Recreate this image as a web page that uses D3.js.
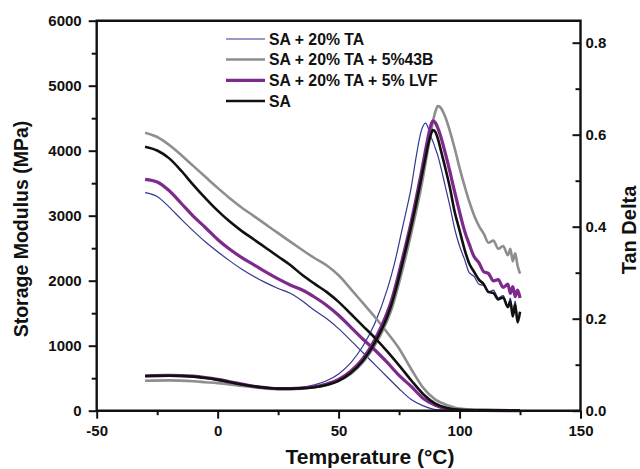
<!DOCTYPE html>
<html>
<head>
<meta charset="utf-8">
<script src="https://cdn.jsdelivr.net/npm/d3@7"></script>
<style>
    body { margin: 0; background: #fff; }
    text { font-family: "Liberation Sans", Arial, sans-serif; font-weight: bold; fill: #111; }
    .axis path { display: none; }
    .axis line { stroke: #111; stroke-width: 2; }
</style>
</head>
<body>
<svg id="chart" width="640" height="469"></svg>
<script>
// series names as in the legend
var seriesNames = ['SA + 20% TA', 'SA + 20% TA + 5%43B', 'SA + 20% TA + 5% LVF', 'SA'];

// storage modulus (MPa)
var modTemps = [-30, -25, -20, -15, -10, -5, 0, 5, 10, 15, 20, 25, 30, 35, 40, 45, 50, 55, 60, 65, 70, 75, 80, 85, 90, 95, 100, 110, 125];
var modTA = [3354, 3295, 3131, 2943, 2763, 2595, 2445, 2305, 2177, 2065, 1966, 1880, 1806, 1688, 1545, 1418, 1263, 1082, 895, 709, 523, 337, 172, 75, 18, 10, 5, 3, 2];
var mod43B = [4277, 4211, 4088, 3931, 3763, 3595, 3428, 3269, 3123, 2994, 2863, 2731, 2602, 2472, 2349, 2238, 2083, 1875, 1658, 1442, 1208, 958, 642, 352, 171, 86, 34, 12, 5];
var modLVF = [3560, 3518, 3383, 3188, 2989, 2815, 2634, 2483, 2355, 2245, 2132, 2028, 1935, 1857, 1749, 1623, 1468, 1286, 1103, 934, 746, 543, 374, 189, 85, 26, 10, 4, 2];
var modSA = [4062, 4003, 3882, 3689, 3471, 3268, 3078, 2909, 2763, 2634, 2503, 2372, 2242, 2088, 1954, 1828, 1674, 1492, 1306, 1120, 917, 698, 468, 254, 109, 42, 14, 6, 3];

// tan delta
var tanTemps = [-30, -20, -10, -5, 0, 5, 10, 15, 20, 25, 30, 35, 40, 45, 50, 55, 60, 65, 70, 72, 74, 76, 78, 80, 82, 84, 86, 87, 88, 89, 90, 91, 92, 94, 96, 98, 100, 102, 104, 106, 108, 110, 112, 114, 116, 118, 120, 121, 122, 123, 124, 125];
var tanTA = [0.076, 0.077, 0.075, 0.072, 0.068, 0.063, 0.058, 0.054, 0.051, 0.049, 0.049, 0.051, 0.056, 0.065, 0.080, 0.104, 0.140, 0.190, 0.262, 0.298, 0.340, 0.388, 0.435, 0.485, 0.550, 0.605, 0.625, 0.615, 0.598, 0.585, 0.570, 0.555, 0.535, 0.490, 0.445, 0.395, 0.358, 0.330, 0.300, 0.292, 0.275, 0.272, 0.258, 0.262, 0.245, 0.250, 0.228, 0.245, 0.215, 0.238, 0.200, 0.215];
var tan43B = [0.065, 0.066, 0.064, 0.062, 0.060, 0.057, 0.054, 0.051, 0.048, 0.047, 0.047, 0.048, 0.051, 0.056, 0.065, 0.080, 0.105, 0.142, 0.195, 0.222, 0.258, 0.298, 0.340, 0.385, 0.432, 0.482, 0.540, 0.570, 0.600, 0.628, 0.650, 0.662, 0.660, 0.640, 0.608, 0.570, 0.528, 0.490, 0.455, 0.425, 0.402, 0.385, 0.365, 0.370, 0.352, 0.358, 0.338, 0.352, 0.325, 0.342, 0.315, 0.298];
var tanLVF = [0.076, 0.077, 0.075, 0.072, 0.068, 0.063, 0.058, 0.053, 0.050, 0.048, 0.048, 0.049, 0.052, 0.058, 0.068, 0.086, 0.113, 0.155, 0.212, 0.242, 0.280, 0.322, 0.365, 0.410, 0.460, 0.512, 0.568, 0.595, 0.618, 0.630, 0.626, 0.615, 0.600, 0.562, 0.520, 0.475, 0.432, 0.392, 0.362, 0.335, 0.322, 0.302, 0.298, 0.282, 0.285, 0.268, 0.275, 0.255, 0.270, 0.248, 0.262, 0.245];
var tanSA = [0.075, 0.076, 0.074, 0.071, 0.067, 0.062, 0.057, 0.053, 0.050, 0.048, 0.048, 0.049, 0.051, 0.056, 0.065, 0.082, 0.108, 0.148, 0.203, 0.233, 0.270, 0.312, 0.355, 0.400, 0.448, 0.500, 0.552, 0.578, 0.598, 0.610, 0.606, 0.592, 0.572, 0.530, 0.485, 0.432, 0.392, 0.352, 0.320, 0.302, 0.285, 0.275, 0.258, 0.256, 0.242, 0.246, 0.225, 0.238, 0.205, 0.230, 0.192, 0.215];

var colors = ['#34378f', '#8e8e8e', '#7e2a8c', '#111111'];
var widths = [1.2, 2.6, 3.2, 2.6];

var xTicks = [-50, 0, 50, 100, 150];
var xMinor = [-25, 25, 75, 125];
var yTicks = [0, 1000, 2000, 3000, 4000, 5000, 6000];
var yMinor = [500, 1500, 2500, 3500, 4500, 5500];
var tTicks = [0, 0.2, 0.4, 0.6, 0.8];
var tMinor = [0.1, 0.3, 0.5, 0.7];

var L = 96.7, R = 580.5, T = 20.7, B = 410.7;
var svg = d3.select('#chart');

var x = d3.scaleLinear().domain([-50, 150]).range([L, R]);
var yMod = d3.scaleLinear().domain([0, 6000]).range([B, T]);
var yTan = d3.scaleLinear().domain([0, 0.8478]).range([B, T]);

// curves
var modSeries = [modTA, mod43B, modLVF, modSA];
var tanSeries = [tanTA, tan43B, tanLVF, tanSA];

var modLine = d3.line().x(function(d, i) { return x(modTemps[i]); }).y(function(d) { return yMod(d); }).curve(d3.curveMonotoneX);
var tanLine = d3.line().x(function(d, i) { return x(tanTemps[i]); }).y(function(d) { return yTan(d); }).curve(d3.curveMonotoneX);

for (var s = 0; s < 4; s++) {
    svg.append('path').attr('d', modLine(modSeries[s])).attr('fill', 'none')
        .attr('stroke', colors[s]).attr('stroke-width', widths[s]).attr('stroke-linejoin', 'round');
    svg.append('path').attr('d', tanLine(tanSeries[s])).attr('fill', 'none')
        .attr('stroke', colors[s]).attr('stroke-width', widths[s]).attr('stroke-linejoin', 'round');
}

// axes (plain hyphen for negatives, like the original)
var intFmt = function(d) { return String(d); };

svg.append('g').attr('class', 'axis').attr('transform', 'translate(' + L + ',0)')
    .call(d3.axisLeft(yMod).tickValues(yTicks).tickSize(8).tickSizeOuter(0).tickPadding(7).tickFormat(intFmt))
    .selectAll('text').style('font-size', '15px');
svg.append('g').attr('class', 'axis').attr('transform', 'translate(' + L + ',0)')
    .call(d3.axisLeft(yMod).tickValues(yMinor).tickSize(5).tickSizeOuter(0).tickFormat(''));

svg.append('g').attr('class', 'axis').attr('transform', 'translate(0,' + B + ')')
    .call(d3.axisBottom(x).tickValues(xTicks).tickSize(8).tickSizeOuter(0).tickPadding(6.5).tickFormat(intFmt))
    .selectAll('text').style('font-size', '15px');
svg.append('g').attr('class', 'axis').attr('transform', 'translate(0,' + B + ')')
    .call(d3.axisBottom(x).tickValues(xMinor).tickSize(4.5).tickSizeOuter(0).tickFormat(''));

svg.append('g').attr('class', 'axis').attr('transform', 'translate(' + R + ',0)')
    .call(d3.axisRight(yTan).tickValues(tTicks).tickSize(-8).tickSizeOuter(0).tickPadding(5).tickFormat(d3.format('.1f')))
    .selectAll('text').style('font-size', '15px');
svg.append('g').attr('class', 'axis').attr('transform', 'translate(' + R + ',0)')
    .call(d3.axisRight(yTan).tickValues(tMinor).tickSize(-5).tickSizeOuter(0).tickFormat(''));

// frame
svg.append('path').attr('d', 'M' + L + ',' + B + 'V' + T + 'H' + R + 'V' + B + 'Z')
    .attr('fill', 'none').attr('stroke', '#111').attr('stroke-width', 2.4);

// axis titles
svg.append('text').attr('x', 370).attr('y', 464).attr('text-anchor', 'middle')
    .style('font-size', '21px').text('Temperature (°C)');
svg.append('text').attr('transform', 'translate(28,229) rotate(-90)').attr('text-anchor', 'middle')
    .style('font-size', '19.5px').text('Storage Modulus (MPa)');
svg.append('text').attr('transform', 'translate(636,230) rotate(-90)').attr('text-anchor', 'middle')
    .style('font-size', '20px').text('Tan Delta');

// legend
var legY = [39, 59.5, 80.3, 101];
var leg = svg.append('g');
seriesNames.forEach(function(name, i) {
    leg.append('line').attr('x1', 226).attr('x2', 265).attr('y1', legY[i]).attr('y2', legY[i])
        .attr('stroke', colors[i]).attr('stroke-width', widths[i]);
    leg.append('text').attr('x', 269).attr('y', legY[i] + 5.8).style('font-size', '15.8px').text(name);
});
</script>
</body>
</html>
